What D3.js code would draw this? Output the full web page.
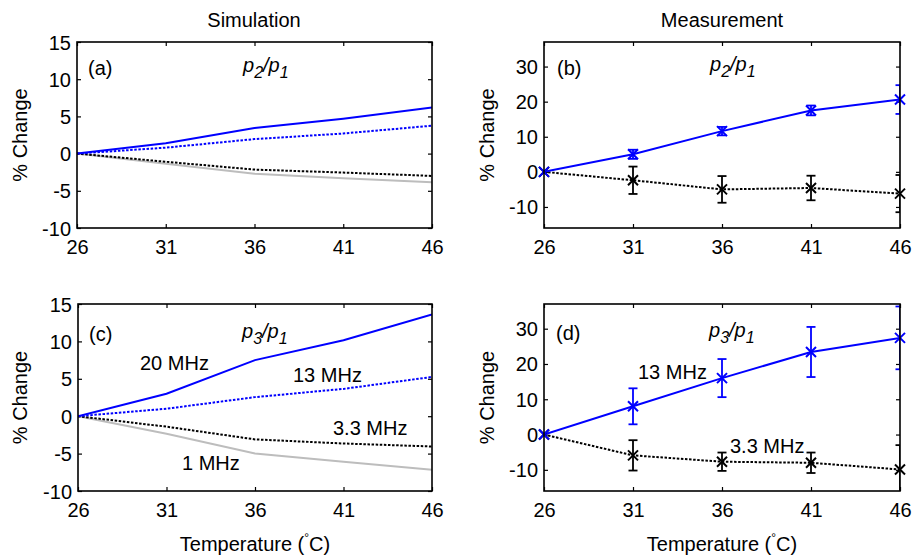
<!DOCTYPE html>
<html>
<head>
<meta charset="utf-8">
<script src="https://cdn.jsdelivr.net/npm/d3@7"></script>
<style>
    body { margin: 0; background: #fff; }
    svg { display: block; font-family: 'Liberation Sans', Arial, Helvetica, sans-serif; }
    text { fill: #000; font-size: 20px; }
</style>
</head>
<body>
<svg id="chart" width="914" height="557"></svg>
<script>
'use strict'

const temps = [26, 31, 36, 41, 46]
const xTicks = [26, 31, 36, 41, 46]
const simTicks = [-10, -5, 0, 5, 10, 15]
const measTicks = [-10, 0, 10, 20, 30]

// simulation, p2/p1
const a20 = [0, 1.4, 3.45, 4.7, 6.2]
const a13 = [0, 0.8, 1.95, 2.7, 3.75]
const a33 = [0, -1.1, -2.15, -2.55, -3.0]
const a1 = [0, -1.35, -2.7, -3.3, -3.85]

// simulation, p3/p1
const c20 = [0, 3.0, 7.5, 10.15, 13.6]
const c13 = [0, 1.0, 2.55, 3.65, 5.25]
const c33 = [0, -1.4, -3.1, -3.65, -4.05]
const c1 = [0, -2.35, -5.0, -6.1, -7.15]

// measurement, p2/p1 (mean and error)
const b13 = [0, 5.0, 11.6, 17.5, 20.6]
const b13err = [0, 1.3, 1.2, 1.4, 4.1]
const b33 = [0, -2.4, -5.0, -4.6, -6.2]
const b33err = [0, 3.9, 3.8, 3.5, 5.3]

// measurement, p3/p1
const d13 = [0, 8.0, 16.0, 23.4, 27.4]
const d13err = [0, 5.1, 5.4, 7.1, 8.9]
const d33 = [0, -5.9, -7.7, -8.0, -9.9]
const d33err = [0, 4.3, 2.6, 2.9, 6.9]

const blue = '#0000ff'
const dotted = '2.5,1.6'

const svg = d3.select('#chart')

// plain hyphen for negatives, like the original
function plain(d) {
    return String(d)
}

function makePanel(id, box, yDomain, yTicks) {
    let x = d3.scaleLinear().domain([26, 46]).range([box.left, box.right])
    let y = d3.scaleLinear().domain(yDomain).range([box.bottom, box.top])
    let g = svg.append('g')

    g.append('clipPath').attr('id', 'clip-' + id)
        .append('rect')
        .attr('x', box.left).attr('y', box.top)
        .attr('width', box.right - box.left)
        .attr('height', box.bottom - box.top)

    // inward ticks on all four sides, MATLAB style
    let tickLen = 4
    let axes = [
        [d3.axisBottom(x).tickValues(xTicks).tickSize(tickLen), 'translate(0,' + box.bottom + ')', true],
        [d3.axisTop(x).tickValues(xTicks).tickSize(tickLen), 'translate(0,' + box.top + ')', false],
        [d3.axisLeft(y).tickValues(yTicks).tickSize(tickLen), 'translate(' + box.left + ',0)', true],
        [d3.axisRight(y).tickValues(yTicks).tickSize(tickLen), 'translate(' + box.right + ',0)', false],
    ]
    axes.forEach(function (a, i) {
        let ax = g.append('g').attr('transform', a[1]).call(a[0].tickFormat(plain))
        ax.select('.domain').remove()
        ax.selectAll('line').attr('stroke', '#000').attr('stroke-width', 1.2)
        if (i === 0) ax.selectAll('line').attr('y2', -tickLen)
        if (i === 1) ax.selectAll('line').attr('y2', tickLen)
        if (i === 2) ax.selectAll('line').attr('x2', tickLen)
        if (i === 3) ax.selectAll('line').attr('x2', -tickLen)
        if (a[2]) {
            ax.selectAll('text')
                .attr('font-size', 20)
                .attr('font-family', null)
                .attr('fill', '#000')
            if (i === 0) ax.selectAll('text').attr('dy', null).attr('y', 26)
            if (i === 2) ax.selectAll('text').attr('dy', null).attr('y', 7).attr('x', -6)
        } else {
            ax.selectAll('text').remove()
        }
    })

    let plot = g.append('g').attr('clip-path', 'url(#clip-' + id + ')')
    let marks = g.append('g')

    g.append('rect')
        .attr('x', box.left).attr('y', box.top)
        .attr('width', box.right - box.left)
        .attr('height', box.bottom - box.top)
        .attr('fill', 'none')
        .attr('stroke', '#000')
        .attr('stroke-width', 1.6)

    return {x: x, y: y, g: g, plot: plot, marks: marks, box: box}
}

function addLine(p, values, color, dash, width) {
    let line = d3.line()
        .x(function (d, i) { return p.x(temps[i]) })
        .y(function (d) { return p.y(d) })
    p.plot.append('path')
        .datum(values)
        .attr('d', line)
        .attr('fill', 'none')
        .attr('stroke', color)
        .attr('stroke-width', width || 2)
        .attr('stroke-dasharray', dash)
}

function addErrors(p, values, errs, color) {
    let cap = 4.5
    let eb = p.plot.selectAll(null)
        .data(values.map(function (v, i) { return {t: temps[i], v: v, e: errs[i]} })
            .filter(function (d) { return d.e > 0 }))
        .enter()
        .append('g')
        .attr('stroke', color)
        .attr('stroke-width', 1.8)
    eb.append('line')
        .attr('x1', function (d) { return p.x(d.t) })
        .attr('x2', function (d) { return p.x(d.t) })
        .attr('y1', function (d) { return p.y(d.v + d.e) })
        .attr('y2', function (d) { return p.y(d.v - d.e) })
    ;[1, -1].forEach(function (s) {
        eb.append('line')
            .attr('x1', function (d) { return p.x(d.t) - cap })
            .attr('x2', function (d) { return p.x(d.t) + cap })
            .attr('y1', function (d) { return p.y(d.v + s * d.e) })
            .attr('y2', function (d) { return p.y(d.v + s * d.e) })
    })

    // x markers are not clipped
    let r = 5
    p.marks.selectAll(null)
        .data(values)
        .enter()
        .append('path')
        .attr('d', function (d, i) {
            let cx = p.x(temps[i]), cy = p.y(d)
            return 'M' + (cx - r) + ',' + (cy - r) + 'L' + (cx + r) + ',' + (cy + r) +
                'M' + (cx - r) + ',' + (cy + r) + 'L' + (cx + r) + ',' + (cy - r)
        })
        .attr('stroke', color)
        .attr('stroke-width', 2)
}

function ratioLabel(p, x, y, num) {
    let t = p.g.append('text').attr('x', x).attr('y', y).attr('font-style', 'italic')
    t.append('tspan').text('p')
    t.append('tspan').attr('font-size', 16).attr('dy', 6).text(num)
    t.append('tspan').attr('dy', -6).text('/p')
    t.append('tspan').attr('font-size', 16).attr('dy', 6).text('1')
}

function addText(p, x, y, str, anchor) {
    p.g.append('text')
        .attr('x', x).attr('y', y)
        .attr('text-anchor', anchor || 'start')
        .text(str)
}

function yLabel(p, cx) {
    let cy = (p.box.top + p.box.bottom) / 2
    p.g.append('text')
        .attr('transform', 'translate(' + cx + ',' + cy + ') rotate(-90)')
        .attr('text-anchor', 'middle')
        .attr('dy', 7)
        .text('% Change')
}

function xLabel(p) {
    let t = p.g.append('text')
        .attr('x', (p.box.left + p.box.right) / 2)
        .attr('y', 551)
        .attr('text-anchor', 'middle')
    t.append('tspan').text('Temperature (')
    t.append('tspan').attr('font-size', 12).attr('dy', -9).text('\u00b0')
    t.append('tspan').attr('dy', 9).text('C)')
}

let pa = makePanel('a', {left: 77, right: 432, top: 42, bottom: 228}, [-10, 15], simTicks)
let pb = makePanel('b', {left: 544, right: 900, top: 42, bottom: 228}, [-16, 37], measTicks)
let pc = makePanel('c', {left: 78, right: 432, top: 304, bottom: 491}, [-10, 15], simTicks)
let pd = makePanel('d', {left: 544, right: 900, top: 304, bottom: 491}, [-16, 37], measTicks)

addLine(pa, a1, '#bdbdbd')
addLine(pa, a33, '#000', dotted)
addLine(pa, a13, blue, dotted)
addLine(pa, a20, blue)

addLine(pc, c1, '#bdbdbd')
addLine(pc, c33, '#000', dotted)
addLine(pc, c13, blue, dotted)
addLine(pc, c20, blue)

addLine(pb, b33, '#000', dotted)
addErrors(pb, b33, b33err, '#000')
addLine(pb, b13, blue)
addErrors(pb, b13, b13err, blue)

addLine(pd, d33, '#000', dotted)
addErrors(pd, d33, d33err, '#000')
addLine(pd, d13, blue)
addErrors(pd, d13, d13err, blue)

addText(pa, 254, 27, 'Simulation', 'middle')
addText(pb, 722, 27, 'Measurement', 'middle')

addText(pa, 88, 75, '(a)')
addText(pb, 557, 75, '(b)')
addText(pc, 89, 341, '(c)')
addText(pd, 556, 340, '(d)')

ratioLabel(pa, 243, 72, '2')
ratioLabel(pb, 710, 71, '2')
ratioLabel(pc, 242, 338, '3')
ratioLabel(pd, 709, 337, '3')

addText(pc, 140, 370, '20 MHz')
addText(pc, 293, 382, '13 MHz')
addText(pc, 333, 435, '3.3 MHz')
addText(pc, 182, 470, '1 MHz')
addText(pd, 638, 379, '13 MHz')
addText(pd, 730, 453, '3.3 MHz')

yLabel(pa, 20)
yLabel(pc, 20)
yLabel(pb, 487)
yLabel(pd, 487)

xLabel(pc)
xLabel(pd)
</script>
</body>
</html>
